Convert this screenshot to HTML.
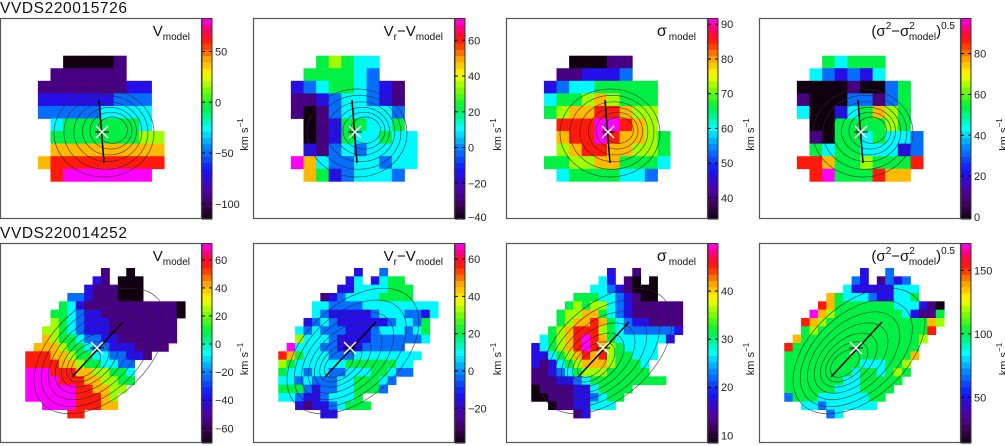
<!DOCTYPE html>
<html><head><meta charset="utf-8">
<style>
html,body{margin:0;padding:0;background:#fff;}
svg{display:block;font-family:"Liberation Sans",sans-serif;}
</style></head>
<body>
<svg id="fig" width="1005" height="446" viewBox="0 0 1005 446" xmlns="http://www.w3.org/2000/svg"></svg>
<script>
// ---- data ----
const galaxyIds = ["VVDS220015726", "VVDS220014252"];
// maps: each row "startCol|levels" (level 0-9 => fraction of colour range)
const mapA1 = ["","","","5|00001","4|111111","3|111111122","3|222222333","3|333334444","4|45555554","4|555555566","4|777777777","3|7888888888","4|89999999"];
const mapB1 = ["","","","5|56544","4|555543","3|234554321","3|112344321","3|101344443","4|01255445","4|012544544","4|213434444","3|9743344344","4|75234443"];
const mapC1 = ["","","","5|00011","4|112223","3|234455555","3|455676555","3|567788766","4|88899876","4|788987765","4|678877665","3|5566775554","4|45555443"];
const mapD1 = ["","","","5|54555","4|432324","3|000010035","3|100033135","3|400245765","4|00555565","4|105545443","4|545544423","3|8875565558","4|89555877"];
const mapA2 = ["","","","12|1..0","11|21.000","10|2111000","8|332111000","7|542111111111110","6|5543221111111110","6|654322211111111","5|6654322211111111","5|7655433221111111","4|7776554332221111","3|888776554433221","3|8888776554433","3|9998887766554","3|9999888776655","3|999999887766","3|99999988876","5|999988877","8|88"];
const mapB2 = ["","","","12|2..3","11|24.2455","10|224444555","8|12344445555","7|443333444444444","7|432222234443324","6|234322222234435","5|4343332223444345","5|6444322223333334","4|94443322233333","3|87544433344444444","3|6544444455555544","3|5443443344455433","3|44343334455543","3|5553233445553","3|4432234445","5|212234555","8|22"];
const mapC2 = ["","","","12|2..1","11|42.10.0","10|44321000","8|5554432100","7|56566432111111","6|566775432111111","6|567787543221111","5|5678886543333332","4|4567898754444442","3|245678987654444","3|224567878655444","3|21245677765554","3|11234566655555","3|1112234555555555","3|011112245555","3|00111223455","5|01122444","8|12"];
const mapD2 = ["","","","12|2..3","11|32.1323","10|422222444","8|75444322445","7|875555555444210","6|9765555555542115","5|87655555555555576","5|5655555555555558","4|7555555555555556","3|8555555555555555","3|5555555555555557","3|555555555444556","3|555555554554565","3|55555554455555","3|5555554445555","3|355544444455","5|443444444","8|34"];
const rangeA1=[-115,83], ticksA1=[50,0,-50,-100];
const rangeB1=[-40,72.5], ticksB1=[60,40,20,0,-20,-40];
const rangeC1=[33.9,91.8], ticksC1=[90,80,70,60,50,40];
const rangeD1=[-1,97.4], ticksD1=[80,60,40,20,0];
const rangeA2=[-70.5,72], ticksA2=[60,40,20,0,-20,-40,-60];
const rangeB2=[-38.6,68.6], ticksB2=[60,40,20,0,-20];
const rangeC2=[8.4,50], ticksC2=[40,30,20,10];
const rangeD2=[14,171.5], ticksD2=[150,100,50];
const contourLevels1=[1.0,0.84,0.68,0.54,0.42,0.3];
const contourLevels2=[1.0,0.85,0.7,0.56,0.43,0.32,0.22];

// ---- layout ----
const NS="http://www.w3.org/2000/svg";
const svg=document.getElementById('fig');
const PX=[0,253,506,759];
const ROWS=[{y:18,h:201,n:16},{y:243,h:200,n:24}];
const BW=202, CBW=10;
function el(tag,attrs,parent){const e=document.createElementNS(NS,tag);for(const k in attrs)e.setAttribute(k,attrs[k]);(parent||svg).appendChild(e);return e;}
const stops=[[0,[16,0,16]],[0.08,[64,0,96]],[0.15,[80,0,170]],[0.25,[20,20,255]],[0.37,[0,150,255]],[0.45,[0,255,255]],[0.56,[0,240,60]],[0.65,[130,255,0]],[0.72,[255,255,0]],[0.8,[255,160,0]],[0.88,[255,30,0]],[0.94,[255,0,90]],[1,[255,0,255]]];
function cmap(t){t=Math.max(0,Math.min(1,t));for(let i=1;i<stops.length;i++){if(t<=stops[i][0]){const a=stops[i-1],b=stops[i];const f=(t-a[0])/(b[0]-a[0]);const c=a[1].map((v,j)=>Math.round(v+(b[1][j]-v)*f));return `rgb(${c[0]},${c[1]},${c[2]})`;}}return 'rgb(255,0,255)';}

const panels=[
 {row:0,col:0,map:mapA1,range:rangeA1,ticks:ticksA1,name:'v-model'},
 {row:0,col:1,map:mapB1,range:rangeB1,ticks:ticksB1,name:'v-residual'},
 {row:0,col:2,map:mapC1,range:rangeC1,ticks:ticksC1,name:'sigma-model'},
 {row:0,col:3,map:mapD1,range:rangeD1,ticks:ticksD1,name:'sigma-residual'},
 {row:1,col:0,map:mapA2,range:rangeA2,ticks:ticksA2,name:'v-model'},
 {row:1,col:1,map:mapB2,range:rangeB2,ticks:ticksB2,name:'v-residual'},
 {row:1,col:2,map:mapC2,range:rangeC2,ticks:ticksC2,name:'sigma-model'},
 {row:1,col:3,map:mapD2,range:rangeD2,ticks:ticksD2,name:'sigma-residual'}
];

galaxyIds.forEach((id,i)=>{
  const t=el('text',{x:0,y:i===0?13:238,'font-size':15.5,fill:'#111','letter-spacing':0.6});
  
  
  t.textContent=id;
});

function label(g,p,x,y){
  const t=el('text',{x:x,y:y,'text-anchor':'end',fill:'#111','font-size':15},g);
  
  
  const sub=(txt)=>{const a=el('tspan',{'font-size':10,dy:4},t);a.textContent=txt;};
  if(p.col===0){t.appendChild(document.createTextNode('V'));sub('model');}
  else if(p.col===1){t.appendChild(document.createTextNode('V'));const a=el('tspan',{'font-size':10,dy:4},t);a.textContent='r';const b=el('tspan',{dy:-4},t);b.textContent='−V';const c=el('tspan',{'font-size':10,dy:4},t);c.textContent='model';}
  else if(p.col===2){const a=el('tspan',{'font-size':16},t);a.textContent='σ';const c=el('tspan',{'font-size':10,dy:4,dx:2},t);c.textContent='model';}
  else {t.setAttribute('x',x+6);t.appendChild(document.createTextNode('(σ'));const s1=el('tspan',{'font-size':10,dy:-7},t);s1.textContent='2';const m=el('tspan',{dy:7},t);m.textContent='−σ';const s2=el('tspan',{'font-size':10,dy:-7},t);s2.textContent='2';const s3=el('tspan',{'font-size':10,dy:11,dx:-6},t);s3.textContent='model';const cl=el('tspan',{dy:-4},t);cl.textContent=')';const s4=el('tspan',{'font-size':10,dy:-7},t);s4.textContent='0.5';}
}

panels.forEach(p=>{
  const R=ROWS[p.row], x0=PX[p.col], y0=R.y, cell=BW/R.n, cellH=R.h/R.n;
  const g=el('g',{});
  
  
  p.map.forEach((row,r)=>{
    if(!row) return;
    const [s,vals]=row.split('|');const start=+s;
    for(let i=0;i<vals.length;i++){
      const ch=vals[i]; if(ch==='.') continue;
      const c=el('rect',{x:(x0+(start+i)*cell).toFixed(2),y:(y0+r*cellH).toFixed(2),width:(cell+0.4).toFixed(2),height:(cellH+0.4).toFixed(2),fill:cmap(+ch/9)},g);
      
      
    }
  });
  const cg=el('g',{fill:'none',stroke:'#2a2a2a','stroke-width':0.7,'stroke-opacity':0.8},g);
  
  
  if(p.row===0){
    contourLevels1.forEach(k=>{
      const cx=x0+104+(1-k)*12, cy=y0+115-(1-k)*4;
      el('ellipse',{cx:cx,cy:cy,rx:50*k,ry:44*k},cg);
    });
  } else {
    contourLevels2.forEach(k=>{
      const cx=x0+100-(1-k)*18, cy=y0+108+(1-k)*16;
      el('ellipse',{cx:cx,cy:cy,rx:78*k,ry:47*k,transform:`rotate(-42 ${cx} ${cy})`},cg);
    });
  }
  const ln = p.row===0 ? [x0+99,y0+82,x0+104,y0+145] : [x0+72,y0+134,x0+123,y0+79];
  const l=el('line',{x1:ln[0],y1:ln[1],x2:ln[2],y2:ln[3],stroke:'#000','stroke-width':1.5},g);
  
  
  const cc = p.row===0 ? [x0+102,y0+114] : [x0+97,y0+105];
  const xg=el('g',{stroke:'#fff','stroke-width':1.5},g);
  
  
  el('line',{x1:cc[0]-7,y1:cc[1],x2:cc[0]+7,y2:cc[1],stroke:'#000','stroke-width':1},xg);
  el('line',{x1:cc[0]-6,y1:cc[1]-6,x2:cc[0]+6,y2:cc[1]+6},xg);
  el('line',{x1:cc[0]-6,y1:cc[1]+6,x2:cc[0]+6,y2:cc[1]-6},xg);
  const f=el('rect',{x:x0+0.5,y:y0+0.5,width:BW-1,height:R.h-1,fill:'none',stroke:'#555','stroke-width':1.2},g);
  
  
  label(g,p,x0+190,y0+18);
  const cbx=x0+BW, N=32;
  const cb=el('g',{},g);
  
  
  for(let i=0;i<N;i++){
    el('rect',{x:cbx,y:(y0+R.h*(N-1-i)/N).toFixed(2),width:CBW,height:(R.h/N+0.5).toFixed(2),fill:cmap((i+0.5)/N)},cb);
  }
  el('rect',{x:cbx,y:y0+0.5,width:CBW,height:R.h-1,fill:'none',stroke:'#333','stroke-width':1},cb);
  const yv=v=>y0+R.h*(1-(v-p.range[0])/(p.range[1]-p.range[0]));
  p.ticks.forEach(v=>{
    const ty=yv(v);
    el('line',{x1:cbx,y1:ty,x2:cbx+3,y2:ty,stroke:'#000','stroke-width':1},cb);
    el('line',{x1:cbx+CBW-3,y1:ty,x2:cbx+CBW,y2:ty,stroke:'#000','stroke-width':1},cb);
    const t=el('text',{x:cbx+CBW+3,y:Math.min(ty+4,y0+R.h+2),'font-size':11,fill:'#222'},cb);
    
    
    t.textContent=(v<0?'−':'')+Math.abs(v);
  });
  const ux=x0+248, uy=y0+R.h/2+16;
  const u=el('text',{x:ux,y:uy,'font-size':11,fill:'#222','text-anchor':'middle',transform:`rotate(-90 ${ux} ${uy})`},cb);
  
  
  u.appendChild(document.createTextNode('km s'));
  const sp=el('tspan',{'font-size':8,dy:-5},u); sp.textContent='−1';
});
</script>
</body></html>
